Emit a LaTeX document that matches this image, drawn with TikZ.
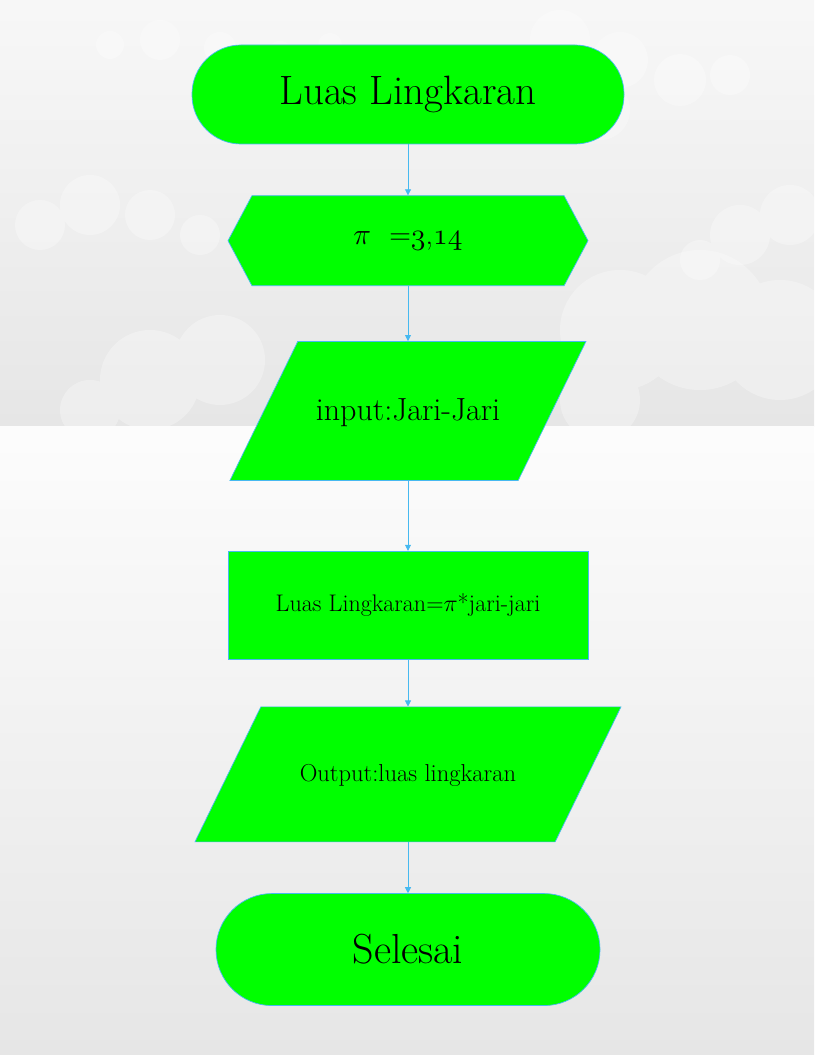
\documentclass[tikz,border=0pt]{standalone}
\usepackage{fix-cm}
\usepackage{amsmath}
\usepackage{fontspec}
\usepackage{xcolor}
\usepackage{tikz}
\usetikzlibrary{arrows.meta,positioning,shapes.geometric,shapes.symbols}

\newcommand\angkalama[1]{{\usefont{OML}{cmm}{m}{it}#1}}
\definecolor{garis}{RGB}{70,185,240}
\definecolor{langit}{RGB}{230,230,230}
\tikzset{
  base/.style={draw=garis,fill=green,line width=0.7pt,align=center,text=black,inner sep=0pt},
  terminal/.style={base,rectangle,rounded corners=49pt,minimum width=432pt,minimum height=99pt},
  persiapan/.style={base,signal,signal to=west and east,signal pointer angle=124,minimum width=360pt,minimum height=90pt},
  io/.style={base,trapezium,trapezium left angle=64,trapezium right angle=116,trapezium stretches body=true,
    text height=20pt,text depth=0pt,inner ysep=59.5pt,minimum width=356pt},
  proses/.style={base,rectangle,minimum width=360pt,minimum height=108pt},
  panah/.style={draw=garis,line width=0.7pt,-{Triangle[length=6pt,width=6pt]}},
  awan/.style={fill=white,opacity=0.3}
}

\begin{document}
\begin{tikzpicture}[x=1pt,y=1pt]
  \useasboundingbox (0,0) rectangle (816,-1056);
  % latar belakang
  \shade[top color=white!97!black,bottom color=langit] (0,0) rectangle (814,-426);
  \shade[top color=white!99!black,bottom color=langit] (0,-426) rectangle (814,-1054);
  % awan
  \fill[awan] (110,-45) circle (14) (160,-40) circle (20) (220,-48) circle (16) (280,-55) circle (14) (330,-45) circle (12);
  \fill[awan] (560,-40) circle (30) (620,-60) circle (28) (680,-80) circle (26) (730,-75) circle (20) (600,-110) circle (30);
  \fill[awan] (40,-225) circle (25) (90,-205) circle (30) (150,-215) circle (25) (200,-235) circle (20);
  \fill[awan] (740,-235) circle (30) (790,-215) circle (30) (700,-260) circle (20);
  \fill[awan] (620,-330) circle (60) (700,-320) circle (70) (780,-340) circle (60) (600,-400) circle (40);
  \fill[awan] (150,-380) circle (50) (220,-360) circle (45) (90,-410) circle (30);

  % bagan alir
  \node[terminal,font=\fontsize{41}{46}\selectfont] (mulai) at (408,-94.5) {Luas Lingkaran};
  \node[persiapan,below=51pt of mulai,font=\fontsize{30}{34}\selectfont] (konstanta) {$\pi$\ \ =\angkalama{3},\angkalama{14}};
  \node[io,below=55pt of konstanta,font=\fontsize{32}{36}\selectfont] (masukan) {input:Jari-Jari};
  \node[proses,below=70pt of masukan,font=\fontsize{24}{28}\selectfont] (hitung) {Luas Lingkaran=$\pi$*jari-jari};
  \node[io,below=47pt of hitung,text height=15pt,inner ysep=60pt,minimum width=426pt,font=\fontsize{24.5}{28}\selectfont] (keluaran) {Output:luas lingkaran};
  \node[terminal,below=51pt of keluaran,minimum width=384pt,rounded corners=56pt,minimum height=112pt,font=\fontsize{42}{48}\selectfont] (selesai) {Selesai};

  \draw[panah] (mulai.south) -- (konstanta.north);
  \draw[panah] (konstanta.south) -- (masukan.north);
  \draw[panah] (masukan.south) -- (hitung.north);
  \draw[panah] (hitung.south) -- (keluaran.north);
  \draw[panah] (keluaran.south) -- (selesai.north);
\end{tikzpicture}
\end{document}
